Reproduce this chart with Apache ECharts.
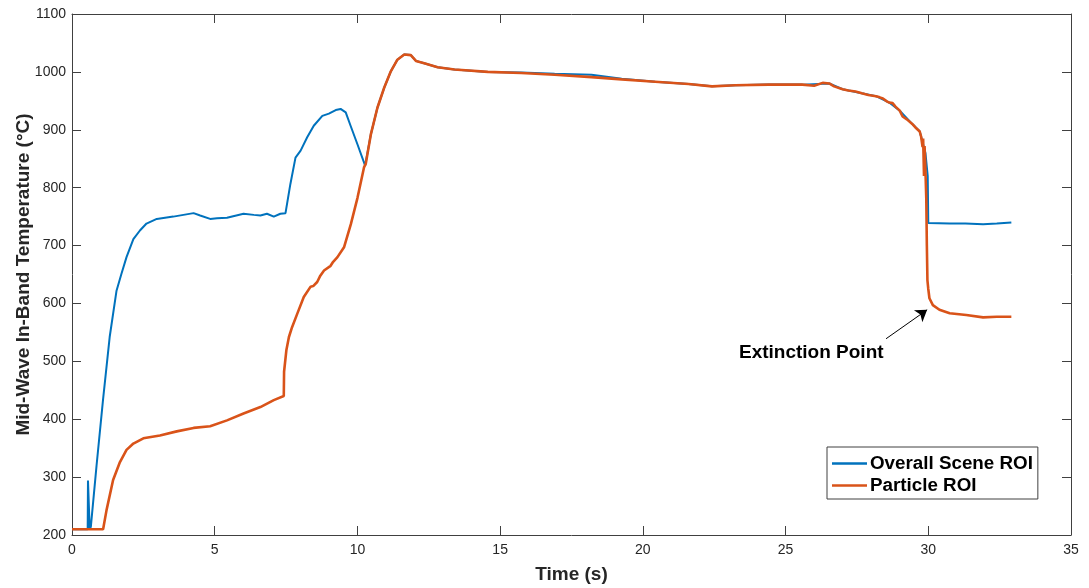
<!DOCTYPE html>
<html>
<head>
<meta charset="utf-8">
<script src="https://cdn.jsdelivr.net/npm/echarts@6/dist/echarts.min.js"></script>
<style>
html,body{margin:0;padding:0;background:#fff;}
#chart{width:1089px;height:588px;}
</style>
</head>
<body>
<div id="chart"></div>
<script>
// ---- data ----
var xTicks = [0, 5, 10, 15, 20, 25, 30, 35];
var yTicks = [200, 300, 400, 500, 600, 700, 800, 900, 1000, 1100];
var seriesNames = ['Overall Scene ROI', 'Particle ROI'];

var sceneTime = [0, 0.55, 0.56, 0.62, 0.66, 0.86, 1.09, 1.32, 1.56, 1.73, 1.91, 2.15, 2.38, 2.61, 2.97, 3.55, 4.26, 4.49, 4.84, 5.08, 5.43, 6.01, 6.37, 6.6, 6.83, 7.07, 7.3, 7.48, 7.65, 7.83, 8.01, 8.24, 8.47, 8.77, 9.0, 9.24, 9.41, 9.59, 9.76, 10.0, 10.27, 10.47, 10.7, 10.94, 11.17, 11.4, 11.64, 11.87, 12.05, 12.34, 12.81, 13.4, 14.57, 15.74, 16.91, 18.2, 19.26, 20.43, 21.6, 22.42, 23.24, 24.42, 25.59, 26.53, 27.0, 27.67, 28.17, 28.63, 29.0, 29.46, 29.7, 29.9, 29.98, 30.0, 30.75, 31.3, 31.92, 32.4, 32.91];
var sceneTemp = [210, 210, 294, 210, 214, 320, 435, 542, 622, 651, 680, 711, 726, 738, 746, 750, 756, 752, 746, 747, 748, 755, 753, 752, 755, 750, 755, 756, 806, 852, 864, 887, 907, 924, 928, 934, 936, 930, 907, 875, 838, 892, 938, 973, 1001, 1021, 1030, 1029, 1019, 1015, 1008, 1004, 1000, 999, 997, 995, 988, 983, 979, 975, 977, 978, 978, 980, 970, 963, 958, 947, 933, 909, 897, 860, 820, 739, 738, 738, 737, 738, 740];

var particleTime = [0, 1.09, 1.21, 1.44, 1.68, 1.91, 2.15, 2.5, 3.08, 3.67, 4.26, 4.84, 5.43, 6.01, 6.6, 7.07, 7.42, 7.43, 7.51, 7.6, 7.71, 7.89, 8.12, 8.36, 8.45, 8.59, 8.7, 8.83, 9.06, 9.15, 9.3, 9.53, 9.77, 10.0, 10.23, 10.29, 10.47, 10.7, 10.94, 11.17, 11.4, 11.64, 11.87, 12.05, 12.34, 12.81, 13.4, 14.57, 15.74, 16.91, 18.2, 19.26, 20.43, 21.6, 22.42, 23.24, 24.42, 25.59, 26.0, 26.3, 26.53, 26.7, 27.0, 27.2, 27.45, 27.67, 27.9, 28.17, 28.3, 28.41, 28.55, 28.63, 28.75, 28.85, 29.0, 29.1, 29.25, 29.46, 29.55, 29.7, 29.75, 29.8, 29.82, 29.85, 29.87, 29.9, 29.93, 29.95, 29.97, 30.0, 30.04, 30.16, 30.39, 30.75, 31.33, 31.92, 32.4, 32.91];
var particleTemp = [210, 210, 243, 295, 326, 347, 358, 367, 372, 379, 385, 388, 398, 410, 421, 433, 440, 482, 519, 542, 559, 582, 611, 629, 630, 637, 648, 657, 665, 672, 680, 697, 737, 782, 835, 841, 892, 938, 973, 1001, 1021, 1030, 1029, 1019, 1015, 1008, 1004, 1000, 998, 995, 991, 987, 983, 979, 975, 977, 978, 978, 976, 981, 980, 975, 970, 968, 966, 963, 960, 958, 956, 954, 949, 947, 946, 940, 933, 923, 918, 909, 904, 897, 888, 870, 885, 820, 872, 830, 780, 700, 640, 625, 609, 597, 589, 583, 580, 576, 577, 577];

var annotationText = 'Extinction Point';
var annotationTextAt = [25.9, 514];
var arrowFrom = [28.52, 539];
var arrowTo = [29.96, 589];

function zip(a, b) { return a.map(function (v, i) { return [v, b[i]]; }); }

// ---- chart ----
var FONT = '"Liberation Sans", Arial, sans-serif';
var chart = echarts.init(document.getElementById('chart'), null, {renderer: 'canvas'});
var axisLineStyle = {color: '#404040', width: 1};
function plain(v) { return String(v); }
var option = {
  animation: false,
  backgroundColor: '#ffffff',
  grid: {left: 72, right: 18, top: 14, bottom: 53, containLabel: false, outerBoundsMode: 'none'},
  legend: {
    orient: 'vertical',
    left: 827, top: 447,
    padding: [7, 5, 4, 5],
    itemGap: 3,
    icon: 'rect',
    itemWidth: 35, itemHeight: 2.5,
    borderColor: '#404040', borderWidth: 1,
    backgroundColor: '#ffffff',
    textStyle: {fontFamily: FONT, fontSize: 18.8, fontWeight: 'bold', color: '#000', padding: [0, 0, 0, -2]},
    data: seriesNames
  },
  xAxis: [{
    type: 'value', min: xTicks[0], max: xTicks[xTicks.length - 1], interval: 5,
    name: 'Time (s)', nameLocation: 'middle', nameGap: 30, nameMoveOverlap: false,
    nameTextStyle: {fontFamily: FONT, fontSize: 19, fontWeight: 'bold', color: '#262626'},
    axisLine: {show: true, onZero: false, lineStyle: axisLineStyle},
    axisTick: {show: true, inside: true, length: 9, lineStyle: axisLineStyle},
    axisLabel: {fontFamily: FONT, fontSize: 14, color: '#262626', margin: 8, formatter: plain},
    splitLine: {show: false}
  }, {
    type: 'value', position: 'top', min: xTicks[0], max: xTicks[xTicks.length - 1], interval: 5,
    axisLine: {show: true, onZero: false, lineStyle: axisLineStyle},
    axisTick: {show: true, inside: true, length: 9, lineStyle: axisLineStyle},
    axisLabel: {show: false}, splitLine: {show: false}
  }],
  yAxis: [{
    type: 'value', min: yTicks[0], max: yTicks[yTicks.length - 1], interval: 100,
    name: 'Mid-Wave In-Band Temperature (\u00B0C)', nameLocation: 'middle', nameGap: 39, nameMoveOverlap: false,
    nameTextStyle: {fontFamily: FONT, fontSize: 19, fontWeight: 'bold', color: '#262626'},
    axisLine: {show: true, onZero: false, lineStyle: axisLineStyle},
    axisTick: {show: true, inside: true, length: 9, lineStyle: axisLineStyle},
    axisLabel: {fontFamily: FONT, fontSize: 14, color: '#262626', margin: 6, formatter: plain},
    splitLine: {show: false}
  }, {
    type: 'value', position: 'right', min: yTicks[0], max: yTicks[yTicks.length - 1], interval: 100,
    axisLine: {show: true, onZero: false, lineStyle: axisLineStyle},
    axisTick: {show: true, inside: true, length: 9, lineStyle: axisLineStyle},
    axisLabel: {show: false}, splitLine: {show: false}
  }],
  series: [{
    name: seriesNames[0], type: 'line', symbol: 'none', z: 2,
    data: zip(sceneTime, sceneTemp),
    lineStyle: {color: '#0072BD', width: 2},
    itemStyle: {color: '#0072BD'}
  }, {
    name: seriesNames[1], type: 'line', symbol: 'none', z: 3,
    data: zip(particleTime, particleTemp),
    lineStyle: {color: '#D95319', width: 2.6},
    itemStyle: {color: '#D95319'},
    markLine: {
      silent: true, symbol: ['none', 'arrow'], symbolSize: 11,
      lineStyle: {color: '#000', width: 1, type: 'solid'},
      label: {show: false},
      data: [[{coord: arrowFrom}, {coord: arrowTo}]]
    },
    markPoint: {
      silent: true, symbol: 'circle', symbolSize: 0,
      label: {show: true, position: 'inside', formatter: annotationText, fontFamily: FONT, fontSize: 19, fontWeight: 'bold', color: '#000'},
      data: [{coord: annotationTextAt}]
    }
  }]
};
chart.setOption(option);
</script>
</body>
</html>
